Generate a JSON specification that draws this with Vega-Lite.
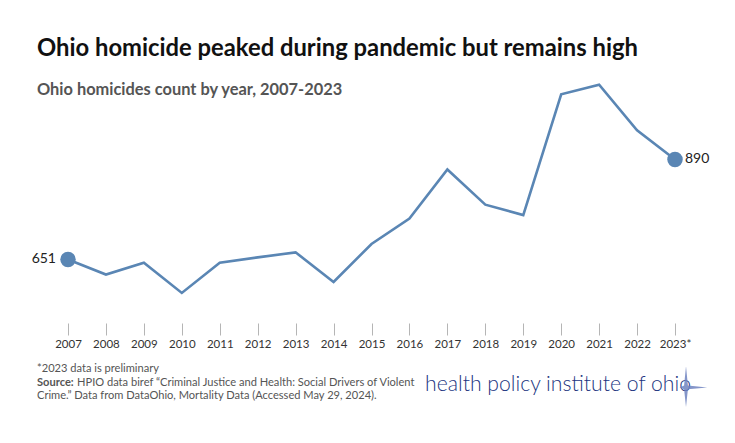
{
  "$schema": "https://vega.github.io/schema/vega-lite/v6.json",
  "autosize": {"type": "none"},
  "width": 607,
  "height": 248,
  "padding": {"left": 68, "top": 70, "right": 60, "bottom": 125},
  "background": "white",
  "config": {"view": {"stroke": null}, "font": "Lato"},
  "title": {
    "text": "Ohio homicide peaked during pandemic but remains high",
    "subtitle": "Ohio homicides count by year, 2007-2023",
    "anchor": "start",
    "frame": "group",
    "dx": -31,
    "offset": -28,
    "font": "Lato",
    "fontSize": 23.8,
    "fontWeight": "bold",
    "color": "#111111",
    "subtitleFont": "Lato",
    "subtitleFontSize": 16.4,
    "subtitleFontWeight": "bold",
    "subtitleColor": "#555555",
    "subtitlePadding": 21
  },
  "datasets": {
    "homicides": [
      {"year": "2007", "count": 651, "end": "start"},
      {"year": "2008", "count": 615},
      {"year": "2009", "count": 643},
      {"year": "2010", "count": 571},
      {"year": "2011", "count": 643},
      {"year": "2012", "count": 656},
      {"year": "2013", "count": 668},
      {"year": "2014", "count": 597},
      {"year": "2015", "count": 688},
      {"year": "2016", "count": 749},
      {"year": "2017", "count": 866},
      {"year": "2018", "count": 782},
      {"year": "2019", "count": 757},
      {"year": "2020", "count": 1046},
      {"year": "2021", "count": 1069},
      {"year": "2022", "count": 960},
      {"year": "2023*", "count": 890, "end": "end"}
    ]
  },
  "layer": [
    {
      "data": {"name": "homicides"},
      "mark": {"type": "line", "color": "#5a86b4", "strokeWidth": 2.6},
      "encoding": {
        "x": {
          "field": "year", "type": "ordinal",
          "scale": {"type": "point", "padding": 0},
          "axis": {
            "title": null, "domain": false, "grid": false,
            "labelAngle": 0, "offset": 5, "tickSize": 12, "tickColor": "#b5b5b5",
            "labelFont": "Lato", "labelFontSize": 11.5, "labelColor": "#333333",
            "labelPadding": 3
          }
        },
        "y": {
          "field": "count", "type": "quantitative",
          "scale": {"domain": [511, 1104], "nice": false, "zero": false},
          "axis": null
        }
      }
    },
    {
      "data": {"name": "homicides"},
      "transform": [{"filter": "datum.end"}],
      "mark": {"type": "circle", "color": "#5a86b4", "opacity": 1, "size": 240},
      "encoding": {
        "x": {"field": "year", "type": "ordinal"},
        "y": {"field": "count", "type": "quantitative"}
      }
    },
    {
      "data": {"name": "homicides"},
      "transform": [{"filter": "datum.end == 'start'"}],
      "mark": {"type": "text", "align": "right", "dx": -12, "fontSize": 14, "color": "#222222", "font": "Lato"},
      "encoding": {
        "x": {"field": "year", "type": "ordinal"},
        "y": {"field": "count", "type": "quantitative"},
        "text": {"field": "count", "type": "quantitative"}
      }
    },
    {
      "data": {"name": "homicides"},
      "transform": [{"filter": "datum.end == 'end'"}],
      "mark": {"type": "text", "align": "left", "dx": 10, "fontSize": 14, "color": "#222222", "font": "Lato"},
      "encoding": {
        "x": {"field": "year", "type": "ordinal"},
        "y": {"field": "count", "type": "quantitative"},
        "text": {"field": "count", "type": "quantitative"}
      }
    },
    {
      "data": {"values": [{"text": "*2023 data is preliminary"}]},
      "mark": {"type": "text", "align": "left", "baseline": "middle", "dx": -31, "fontSize": 11.1, "color": "#555555", "font": "Lato"},
      "encoding": {
        "x": {"datum": "2007", "type": "ordinal"},
        "y": {"datum": 389, "type": "quantitative"},
        "text": {"field": "text"}
      }
    },
    {
      "data": {"values": [{"text": "Source:"}]},
      "mark": {"type": "text", "align": "left", "baseline": "middle", "dx": -31, "fontSize": 11.1, "fontWeight": "bold", "color": "#555555", "font": "Lato"},
      "encoding": {
        "x": {"datum": "2007", "type": "ordinal"},
        "y": {"datum": 356, "type": "quantitative"},
        "text": {"field": "text"}
      }
    },
    {
      "data": {"values": [{"text": "HPIO data biref \u201cCriminal Justice and Health: Social Drivers of Violent"}]},
      "mark": {"type": "text", "align": "left", "baseline": "middle", "dx": 9, "fontSize": 11.1, "color": "#555555", "font": "Lato"},
      "encoding": {
        "x": {"datum": "2007", "type": "ordinal"},
        "y": {"datum": 356, "type": "quantitative"},
        "text": {"field": "text"}
      }
    },
    {
      "data": {"values": [{"text": "Crime.\u201d Data from DataOhio, Mortality Data (Accessed May 29, 2024)."}]},
      "mark": {"type": "text", "align": "left", "baseline": "middle", "dx": -31, "fontSize": 11.1, "color": "#555555", "font": "Lato"},
      "encoding": {
        "x": {"datum": "2007", "type": "ordinal"},
        "y": {"datum": 325, "type": "quantitative"},
        "text": {"field": "text"}
      }
    },
    {
      "data": {"values": [{"text": "health policy institute of ohio"}]},
      "mark": {"type": "text", "align": "right", "baseline": "middle", "dx": 16, "fontSize": 21.2, "fontWeight": 300, "color": "#22357f", "font": "Lato"},
      "encoding": {
        "x": {"datum": "2023*", "type": "ordinal"},
        "y": {"datum": 351, "type": "quantitative"},
        "text": {"field": "text"}
      }
    },
    {
      "data": {"values": [{"mark": "star"}]},
      "mark": {"type": "point", "filled": true, "shape": "M0,-1L0.09,-0.09L1,0L0.09,0.09L0,0.92L-0.09,0.09L-0.3,0L-0.09,-0.09Z", "size": 1800, "color": "#6f82c0", "opacity": 0.85},
      "encoding": {
        "x": {"datum": "2023*", "type": "ordinal"},
        "xOffset": {"value": 11},
        "y": {"datum": 345, "type": "quantitative"}
      }
    }
  ]
}
